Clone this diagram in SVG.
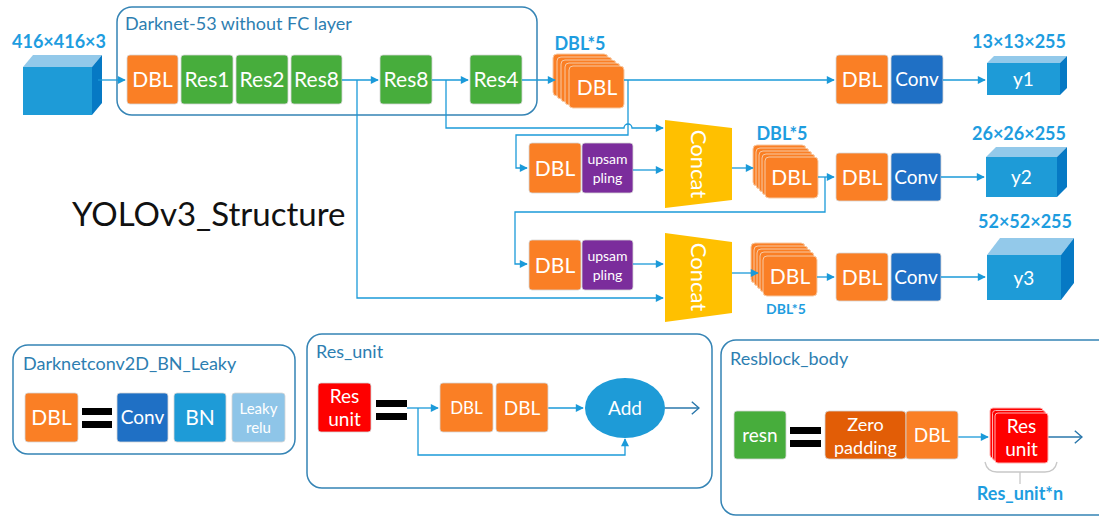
<svg xmlns="http://www.w3.org/2000/svg" width="1099" height="517" viewBox="0 0 1099 517">
<defs>
<marker id="ar" viewBox="0 0 10 10" refX="9" refY="5" markerWidth="9" markerHeight="8" markerUnits="userSpaceOnUse" orient="auto"><path d="M0,0 L10,5 L0,10 z" fill="#1b9ad9"/></marker>
<marker id="ch" viewBox="0 0 10 16" refX="9" refY="8" markerWidth="9" markerHeight="16" markerUnits="userSpaceOnUse" orient="auto"><path d="M1,1 L9,8 L1,15" fill="none" stroke="#2a77ab" stroke-width="1.6"/></marker>
<style>
.b{stroke:#d6d6d6;stroke-width:0.8}
.or{fill:#fa7f25}.gr{fill:#47ad3c}.pu{fill:#7b2d9c}.cv{fill:#1f70c5}.bn{fill:#1e9bd7}.lk{fill:#8ec5e8}.rd{fill:#fe0000}.zp{fill:#e25d06}.yl{fill:#ffc000}
.sk{fill:#fa7f25;stroke:#f7c9a3;stroke-width:1}
.rsk{fill:#fe0000;stroke:#ffb0b0;stroke-width:1}
.t{font-family:Lato,"Liberation Sans",sans-serif;fill:#ffffff;text-anchor:middle}
.f20{font-size:21px}.f18{font-size:19px}.f13{font-size:14px}
.frame{fill:none;stroke:#3584b5;stroke-width:1.5}
.ttl{font-family:Lato,"Liberation Sans",sans-serif;fill:#2d7eb1;font-size:18px}
.lbl{font-family:Lato,"Liberation Sans",sans-serif;font-weight:bold;fill:#1e9ddf;font-size:18px;text-anchor:middle}
.c{fill:none;stroke:#1b9ad9;stroke-width:1.3}
.co{fill:none;stroke:#2a77ab;stroke-width:1.6}
.cf{fill:#1e9bd7}.ct{fill:#93c9ea}.cr{fill:#0679c4}
.eq{fill:#000000}
</style>
</defs>

<g id="darknet-frame">
<rect class="frame" x="117" y="7" width="420" height="108" rx="15"/>
<text class="ttl" x="125" y="30">Darknet-53 without FC layer</text>
</g>

<text id="title" x="72" y="226" font-family="Lato,'Liberation Sans',sans-serif" font-size="33" fill="#111">YOLOv3_Structure</text>

<g id="input">
<text class="lbl" x="59" y="48">416×416×3</text>
<polygon class="ct" points="23,67 33,55 102,55 92,67"/>
<polygon class="cr" points="92,67 102,55 102,103 92,115"/>
<rect class="cf" x="23" y="67" width="69" height="48"/>
</g>

<g id="dbl0"><rect class="or b" x="127" y="55" width="51" height="49" rx="3"/><text class="t f20" x="152.5" y="87">DBL</text></g>
<g id="res1"><rect class="gr b" x="181" y="55" width="52" height="49" rx="3"/><text class="t f20" x="207" y="87">Res1</text></g>
<g id="res2"><rect class="gr b" x="236" y="55" width="52" height="49" rx="3"/><text class="t f20" x="262" y="87">Res2</text></g>
<g id="res8a"><rect class="gr b" x="291" y="55" width="51" height="49" rx="3"/><text class="t f20" x="316.5" y="87">Res8</text></g>
<g id="res8b"><rect class="gr b" x="380" y="55" width="52" height="49" rx="3"/><text class="t f20" x="406" y="87">Res8</text></g>
<g id="res4"><rect class="gr b" x="470" y="55" width="52" height="49" rx="3"/><text class="t f20" x="496" y="87">Res4</text></g>

<g id="dbl5a">
<text class="lbl" x="580" y="50">DBL*5</text>
<rect class="sk" x="553" y="54" width="55" height="42" rx="4"/>
<rect class="sk" x="557" y="57" width="55" height="42" rx="4"/>
<rect class="sk" x="561" y="60" width="55" height="42" rx="4"/>
<rect class="sk" x="565" y="63" width="55" height="42" rx="4"/>
<rect class="sk" x="569" y="66" width="55" height="42" rx="4"/>
<text class="t f20" x="597" y="95">DBL</text>
</g>

<g id="dbl-r1"><rect class="or b" x="836" y="55" width="52" height="49" rx="3"/><text class="t f20" x="862" y="87">DBL</text></g>
<g id="conv-r1"><rect class="cv b" x="891" y="55" width="52" height="49" rx="3"/><text class="t f18" x="917" y="86">Conv</text></g>
<g id="y1">
<text class="lbl" x="1019" y="48">13×13×255</text>
<polygon class="ct" points="987,63 994,56 1067,56 1060,63"/>
<polygon class="cr" points="1060,63 1067,56 1067,88 1060,95"/>
<rect class="cf" x="987" y="63" width="73" height="32"/>
<text class="t f18" x="1023.5" y="86">y1</text>
</g>

<g id="dbl-up1"><rect class="or b" x="529" y="143" width="52" height="50" rx="3"/><text class="t f20" x="555" y="176">DBL</text></g>
<g id="upsam1"><rect class="pu b" x="582" y="143" width="51" height="50" rx="3"/><text class="t f13" x="607.5" y="164">upsam</text><text class="t f13" x="607.5" y="183">pling</text></g>
<g id="concat1"><polygon class="yl" points="665,120 732,128 732,200 665,208"/><text class="t" font-size="22" transform="rotate(90 698 164)" x="698" y="171">Concat</text></g>
<g id="dbl5b">
<text class="lbl" x="782" y="140">DBL*5</text>
<rect class="sk" x="753" y="145" width="53" height="41" rx="4"/>
<rect class="sk" x="756" y="148" width="53" height="41" rx="4"/>
<rect class="sk" x="759" y="151" width="53" height="41" rx="4"/>
<rect class="sk" x="762" y="154" width="53" height="41" rx="4"/>
<rect class="sk" x="765" y="157" width="53" height="41" rx="4"/>
<text class="t f20" x="791.5" y="185">DBL</text>
</g>
<g id="dbl-r2"><rect class="or b" x="836" y="153" width="52" height="48" rx="3"/><text class="t f20" x="862" y="185">DBL</text></g>
<g id="conv-r2"><rect class="cv b" x="891" y="153" width="50" height="48" rx="3"/><text class="t f18" x="916" y="184">Conv</text></g>
<g id="y2">
<text class="lbl" x="1019" y="140">26×26×255</text>
<polygon class="ct" points="986,157 996,147 1067,147 1057,157"/>
<polygon class="cr" points="1057,157 1067,147 1067,187 1057,197"/>
<rect class="cf" x="986" y="157" width="71" height="40"/>
<text class="t f18" x="1021.5" y="184">y2</text>
</g>

<g id="dbl-up2"><rect class="or b" x="529" y="240" width="52" height="50" rx="3"/><text class="t f20" x="555" y="273">DBL</text></g>
<g id="upsam2"><rect class="pu b" x="582" y="240" width="51" height="50" rx="3"/><text class="t f13" x="607.5" y="261">upsam</text><text class="t f13" x="607.5" y="280">pling</text></g>
<g id="concat2"><polygon class="yl" points="665,233 732,242 732,313 665,322"/><text class="t" font-size="22" transform="rotate(90 698 277)" x="698" y="284">Concat</text></g>
<g id="dbl5c">
<rect class="sk" x="751" y="243" width="54" height="40" rx="4"/>
<rect class="sk" x="754" y="246" width="54" height="40" rx="4"/>
<rect class="sk" x="757" y="249" width="54" height="40" rx="4"/>
<rect class="sk" x="760" y="252" width="54" height="40" rx="4"/>
<rect class="sk" x="763" y="256" width="54" height="40" rx="4"/>
<text class="t f20" x="790" y="284">DBL</text>
<text class="lbl" x="786" y="314" style="font-size:14px">DBL*5</text>
</g>
<g id="dbl-r3"><rect class="or b" x="836" y="253" width="52" height="48" rx="3"/><text class="t f20" x="862" y="285">DBL</text></g>
<g id="conv-r3"><rect class="cv b" x="891" y="253" width="50" height="48" rx="3"/><text class="t f18" x="916" y="284">Conv</text></g>
<g id="y3">
<text class="lbl" x="1025" y="228">52×52×255</text>
<polygon class="ct" points="987,255 1000,238 1074,238 1061,255"/>
<polygon class="cr" points="1061,255 1074,238 1074,283 1061,300"/>
<rect class="cf" x="987" y="255" width="74" height="45"/>
<text class="t f18" x="1024" y="285">y3</text>
</g>

<g id="connectors">
<path class="c" d="M98,80 H125" marker-end="url(#ar)"/>
<path class="c" d="M342,80 H378" marker-end="url(#ar)"/>
<path class="c" d="M357,80 V298 H663" marker-end="url(#ar)"/>
<path class="c" d="M432,80 H468" marker-end="url(#ar)"/>
<path class="c" d="M446,80 V128 H624 A4,4 0 0 1 632,128 H663" marker-end="url(#ar)"/>
<path class="c" d="M522,80 H555" marker-end="url(#ar)"/>
<path class="c" d="M624,80 H834" marker-end="url(#ar)"/>
<path class="c" d="M628,80 V135 H516 V168 H527" marker-end="url(#ar)"/>
<path class="c" d="M633,170 H663" marker-end="url(#ar)"/>
<path class="c" d="M732,168 H753" marker-end="url(#ar)"/>
<path class="c" d="M818,177 H834" marker-end="url(#ar)"/>
<path class="c" d="M825,177 V212 H515 V264 H527" marker-end="url(#ar)"/>
<path class="c" d="M633,264 H663" marker-end="url(#ar)"/>
<path class="c" d="M732,273 H758" marker-end="url(#ar)"/>
<path class="c" d="M817,277 H834" marker-end="url(#ar)"/>
<path class="c" d="M943,80 H985" marker-end="url(#ar)"/>
<path class="c" d="M941,177 H984" marker-end="url(#ar)"/>
<path class="c" d="M941,277 H985" marker-end="url(#ar)"/>
<path class="c" d="M407,408 H438" marker-end="url(#ar)"/>
<path class="c" d="M418,408 V455 H625 V439" marker-end="url(#ar)"/>
<path class="c" d="M548,408 H583" marker-end="url(#ar)"/>
<path class="co" d="M665,408 H699" marker-end="url(#ch)"/>
<path class="c" d="M958,437 H988" marker-end="url(#ar)"/>
<path class="co" d="M1048,437 H1082" marker-end="url(#ch)"/>
</g>

<g id="legend-dbl">
<rect class="frame" x="13" y="345" width="282" height="109" rx="15"/>
<text class="ttl" x="23" y="370">Darknetconv2D_BN_Leaky</text>
<rect class="or b" x="25" y="393" width="53" height="49" rx="3"/><text class="t f20" x="51.5" y="425">DBL</text>
<rect class="eq" x="82" y="408" width="30" height="7"/><rect class="eq" x="82" y="421" width="30" height="7"/>
<rect class="cv b" x="117" y="393" width="51" height="49" rx="3"/><text class="t f18" x="142.5" y="424">Conv</text>
<rect class="bn b" x="174" y="393" width="52" height="49" rx="3"/><text class="t f20" x="200" y="425">BN</text>
<rect class="lk b" x="232" y="393" width="53" height="49" rx="3"/><text class="t" font-size="15" x="258.5" y="414" fill="#eef4f8">Leaky</text><text class="t" font-size="15" x="258.5" y="433" fill="#eef4f8">relu</text>
</g>

<g id="legend-resunit">
<rect class="frame" x="307" y="334" width="405" height="154" rx="15"/>
<text class="ttl" x="316" y="358">Res_unit</text>
<rect class="rd b" x="318" y="383" width="53" height="49" rx="3"/><text class="t f18" x="344.5" y="403">Res</text><text class="t f18" x="344.5" y="426">unit</text>
<rect class="eq" x="376" y="400" width="31" height="7"/><rect class="eq" x="376" y="413" width="31" height="7"/>
<rect class="or b" x="440" y="383" width="53" height="49" rx="3"/><text class="t" font-size="17" x="466.5" y="414">DBL</text>
<rect class="or b" x="496" y="383" width="52" height="49" rx="3"/><text class="t f18" x="522" y="415">DBL</text>
<ellipse class="bn" cx="625" cy="408" rx="40" ry="30"/><text class="t f18" x="625" y="415">Add</text>
</g>

<g id="legend-resblock">
<rect class="frame" x="721" y="340" width="400" height="175" rx="15"/>
<text class="ttl" x="730" y="365">Resblock_body</text>
<rect class="gr b" x="734" y="411" width="52" height="48" rx="3"/><text class="t f18" x="760" y="442">resn</text>
<rect class="eq" x="790" y="427" width="31" height="7"/><rect class="eq" x="790" y="440" width="31" height="7"/>
<rect class="zp b" x="825" y="411" width="81" height="48" rx="4"/><text class="t" font-size="18" x="865.5" y="431">Zero</text><text class="t" font-size="18" x="865.5" y="454">padding</text>
<rect class="or b" x="906" y="411" width="52" height="48" rx="3"/><text class="t f18" x="932" y="442">DBL</text>
<rect class="rsk" x="990" y="408" width="53" height="50" rx="3"/>
<rect class="rsk" x="992.5" y="410.5" width="53" height="50" rx="3"/>
<rect class="rsk" x="995" y="413" width="53" height="50" rx="3"/>
<text class="t f18" x="1021.5" y="433">Res</text><text class="t f18" x="1021.5" y="456">unit</text>
<path d="M985,462 Q987,472 997,472 H1045 Q1055,472 1057,462 M1020,472 V484" fill="none" stroke="#c8c8c8" stroke-width="1.3"/>
<text class="lbl" x="1020" y="500">Res_unit*n</text>
</g>
</svg>
